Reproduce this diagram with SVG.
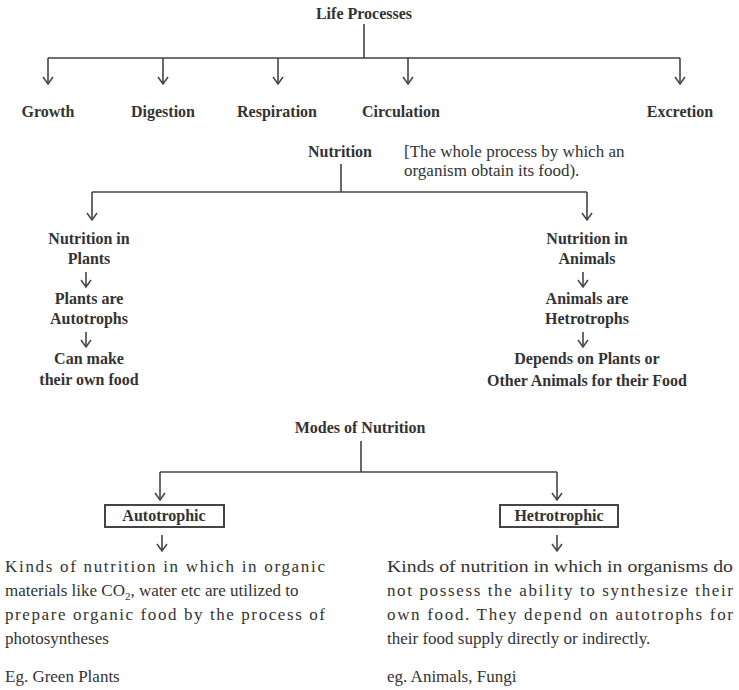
<svg xmlns="http://www.w3.org/2000/svg" width="739" height="690" viewBox="0 0 739 690">
<style>
text{font-family:"Liberation Serif","Times New Roman","DejaVu Serif",serif;fill:#333;}
.b{font-weight:bold;font-size:16px;text-anchor:middle;}
.p{font-size:17px;}
.ln{stroke:#444;stroke-width:1.6;fill:none;}
.box{fill:#fff;stroke:#444;stroke-width:2;}
</style>
<defs><marker id="a" markerWidth="14" markerHeight="14" refX="10" refY="6" orient="auto" markerUnits="userSpaceOnUse"><path d="M3,1 L10,6 L3,11" fill="none" stroke="#444" stroke-width="1.5"/></marker></defs>
<g id="connectors" class="ln">
<path d="M364,24V58M48,58H680"/>
<path d="M48,58V84" marker-end="url(#a)"/>
<path d="M163,58V84" marker-end="url(#a)"/>
<path d="M278,58V84" marker-end="url(#a)"/>
<path d="M408,58V84" marker-end="url(#a)"/>
<path d="M680,58V84" marker-end="url(#a)"/>
<path d="M341,164V192M92,192H587"/>
<path d="M92,192V220" marker-end="url(#a)"/>
<path d="M587,192V220" marker-end="url(#a)"/>
<path d="M86,272V287" marker-end="url(#a)"/>
<path d="M86,332V347" marker-end="url(#a)"/>
<path d="M583,272V287" marker-end="url(#a)"/>
<path d="M583,332V347" marker-end="url(#a)"/>
<path d="M361,441V472M160,472H557"/>
<path d="M160,472V500" marker-end="url(#a)"/>
<path d="M557,472V500" marker-end="url(#a)"/>
<path d="M162,535V551" marker-end="url(#a)"/>
<path d="M557,535V551" marker-end="url(#a)"/>
</g>
<g id="life"><text class="b" x="364" y="19">Life Processes</text></g>
<g id="growth"><text class="b" x="48" y="117">Growth</text></g>
<g id="digestion"><text class="b" x="163" y="117">Digestion</text></g>
<g id="respiration"><text class="b" x="277" y="117">Respiration</text></g>
<g id="circulation"><text class="b" x="401" y="117">Circulation</text></g>
<g id="excretion"><text class="b" x="680" y="117">Excretion</text></g>
<g id="nutrition"><text class="b" x="340" y="157">Nutrition</text>
<text class="p" x="404" y="157">[The whole process by which an</text><text class="p" x="404" y="176">organism obtain its food).</text></g>
<g id="plants"><text class="b" x="89" y="244">Nutrition in</text><text class="b" x="89" y="264">Plants</text></g>
<g id="autotrophs"><text class="b" x="89" y="304">Plants are</text><text class="b" x="89" y="324">Autotrophs</text></g>
<g id="ownfood"><text class="b" x="89" y="364">Can make</text><text class="b" x="89" y="385">their own food</text></g>
<g id="animals"><text class="b" x="587" y="244">Nutrition in</text><text class="b" x="587" y="264">Animals</text></g>
<g id="hetro"><text class="b" x="587" y="304">Animals are</text><text class="b" x="587" y="324">Hetrotrophs</text></g>
<g id="depends"><text class="b" x="587" y="364">Depends on Plants or</text><text class="b" x="587" y="386">Other Animals for their Food</text></g>
<g id="modes"><text class="b" x="360" y="433">Modes of Nutrition</text></g>
<g id="autotrophic"><rect class="box" x="105" y="505" width="119" height="22"/><text class="b" x="164" y="521">Autotrophic</text></g>
<g id="hetrotrophic"><rect class="box" x="500" y="505" width="118" height="22"/><text class="b" x="559" y="521">Hetrotrophic</text></g>
<g id="autodesc">
<text class="p" x="5" y="572" textLength="320" lengthAdjust="spacing">Kinds of nutrition in which in organic</text>
<text class="p" x="5" y="596">materials like CO<tspan font-size="11" dy="4">2</tspan><tspan dy="-4">, water etc are utilized to</tspan></text>
<text class="p" x="5" y="620" textLength="320" lengthAdjust="spacing">prepare organic food by the process of</text>
<text class="p" x="5" y="644">photosyntheses</text>
<text class="p" x="5" y="682">Eg. Green Plants</text>
</g>
<g id="heterodesc">
<text class="p" x="387" y="572" textLength="346" lengthAdjust="spacingAndGlyphs">Kinds of nutrition in which in organisms do</text>
<text class="p" x="387" y="596" textLength="346" lengthAdjust="spacing">not possess the ability to synthesize their</text>
<text class="p" x="387" y="620" textLength="346" lengthAdjust="spacing">own food. They depend on autotrophs for</text>
<text class="p" x="387" y="644">their food supply directly or indirectly.</text>
<text class="p" x="387" y="682">eg. Animals, Fungi</text>
</g>
</svg>
